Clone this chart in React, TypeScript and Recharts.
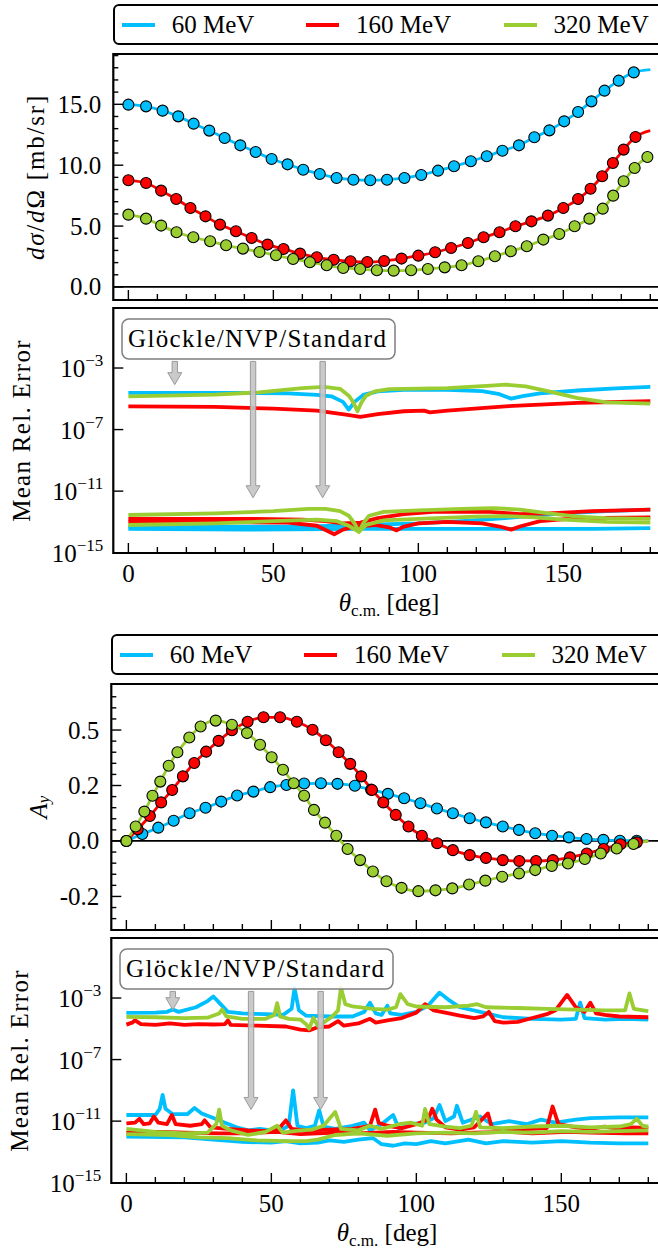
import React from "react";
import {
  ComposedChart,
  Line,
  Scatter,
  XAxis,
  YAxis,
  ReferenceLine,
  ReferenceArea,
} from "recharts";

type Pt = [number, number];

const FONT = '"Liberation Serif", "Times New Roman", serif';
const CYAN = "#00BFFF";
const RED = "#FF0000";
const GREEN = "#9ACD32";
const seriesColors = [CYAN, RED, GREEN];
const energyLabels = ["60 MeV", "160 MeV", "320 MeV"];

// shared theta axis
const thetaTicks = [0, 10, 20, 30, 40, 50, 60, 70, 80, 90, 100, 110, 120, 130, 140, 150, 160, 170, 180];
const thetaMajor = [0, 50, 100, 150];

// dσ/dΩ axis
const xsTicks = [0, 1, 2, 3, 4, 5, 6, 7, 8, 9, 10, 11, 12, 13, 14, 15, 16, 17, 18, 19];
const xsMajor = [0, 5, 10, 15];
const xsMajorLabels = ["0.0", "5.0", "10.0", "15.0"];

// A_y axis (labels as printed in the figure)
const ayTicks = [-0.28, -0.24, -0.2, -0.16, -0.12, -0.08, -0.04, 0, 0.04, 0.08, 0.12, 0.16, 0.2, 0.24, 0.28, 0.32, 0.36, 0.4, 0.44, 0.48, 0.52];
const ayMajor = [-0.2, 0, 0.2, 0.4];
const ayMajorLabels = ["-0.2", "0.0", "0.2", "0.5"];

// log10 error axis
const logTicks = [-15, -11, -7, -3];

// dσ/dΩ [mb/sr] markers
const xs60: Pt[] = [[0, 14.97], [6.1, 14.83], [11.8, 14.48], [17.2, 14.01], [22.5, 13.41], [27.9, 12.84], [33.2, 12.23], [38.6, 11.63], [43.9, 11.08], [49.4, 10.51], [54.9, 10.07], [60.3, 9.63], [66, 9.28], [71.8, 8.95], [77.6, 8.81], [83.4, 8.76], [89.2, 8.81], [95.2, 8.95], [101, 9.2], [106.8, 9.55], [112.3, 9.91], [118.1, 10.32], [123.6, 10.73], [129, 11.19], [134.7, 11.63], [140, 12.29], [145.2, 12.86], [150.3, 13.6], [155.1, 14.37], [159.7, 15.24], [164.2, 16.12], [169.1, 16.94], [174.3, 17.62]];
const xs160: Pt[] = [[0, 8.76], [6.1, 8.54], [11.3, 7.91], [16.5, 7.22], [21.4, 6.49], [26.6, 5.8], [31.6, 5.12], [37.1, 4.57], [42.5, 4.02], [48, 3.48], [53.5, 3.12], [59.2, 2.74], [65, 2.44], [70.8, 2.24], [76.6, 2.11], [82.4, 2.05], [88.2, 2.13], [94.2, 2.33], [100, 2.57], [105.8, 2.85], [111.3, 3.2], [117.1, 3.61], [122.5, 4.08], [128, 4.49], [133.5, 4.98], [139, 5.39], [144.7, 5.86], [150, 6.49], [155.1, 7.22], [159.4, 8.07], [163.4, 9.09], [167.1, 10.18], [170.8, 11.28], [174.9, 12.32]];
const xs320: Pt[] = [[0, 5.94], [6.1, 5.61], [11.3, 5.04], [16.6, 4.49], [22.4, 4.08], [28.2, 3.75], [33.7, 3.42], [39.5, 3.15], [45.2, 2.87], [50.9, 2.6], [56.8, 2.3], [62.6, 2.03], [68.4, 1.78], [74.1, 1.56], [79.9, 1.48], [85.7, 1.37], [91.5, 1.34], [97.5, 1.37], [103.3, 1.48], [109.1, 1.61], [114.9, 1.78], [120.7, 2.11], [126.4, 2.52], [131.9, 2.93], [137.4, 3.34], [143.1, 3.89], [148.6, 4.35], [153.9, 4.98], [159, 5.61], [163.6, 6.43], [167.2, 7.5], [170.8, 8.68], [174.6, 9.77], [179, 10.67]];
const xsAt180 = [17.84, 12.84, 10.78];

// A_y markers
const ay60: Pt[] = [[0, 0], [5.5, 0.025], [11, 0.048], [16.3, 0.073], [21.8, 0.1], [27.3, 0.12], [32.7, 0.142], [38.2, 0.164], [43.8, 0.178], [49.6, 0.194], [55.2, 0.202], [61.3, 0.207], [67.1, 0.208], [72.8, 0.206], [78.8, 0.199], [84.4, 0.185], [90.2, 0.17], [95.8, 0.154], [101.4, 0.136], [107.1, 0.117], [112.6, 0.1], [118.4, 0.082], [124, 0.067], [129.8, 0.052], [135.4, 0.04], [141, 0.028], [146.8, 0.019], [152.6, 0.013], [158.7, 0.007], [164.5, 0.004], [170.2, 0.001], [176, 0.001]];
const ay160: Pt[] = [[0, 0], [3.9, 0.042], [8.1, 0.09], [12, 0.139], [15.8, 0.184], [19.5, 0.233], [23.4, 0.281], [27.5, 0.322], [31.8, 0.361], [36.4, 0.399], [41.8, 0.43], [47.3, 0.446], [53, 0.446], [58.8, 0.43], [64.2, 0.401], [68.8, 0.363], [73.2, 0.32], [77.2, 0.278], [81, 0.233], [84.7, 0.184], [88.6, 0.139], [92.9, 0.094], [97.3, 0.052], [101.9, 0.019], [107.2, -0.008], [112.6, -0.033], [118.4, -0.051], [124, -0.061], [129.8, -0.069], [135.5, -0.072], [141.3, -0.072], [147.1, -0.069], [153, -0.059], [158.8, -0.045], [164.6, -0.029], [170.4, -0.012], [176, -0.005]];
const ay320: Pt[] = [[0, 0], [3.2, 0.052], [6.2, 0.106], [9, 0.163], [11.7, 0.214], [14.6, 0.271], [17.6, 0.32], [21.7, 0.373], [25.6, 0.413], [30.8, 0.434], [36.4, 0.419], [41.6, 0.389], [46.1, 0.347], [50.1, 0.302], [54, 0.257], [57.7, 0.208], [61.3, 0.163], [64.7, 0.112], [68.5, 0.066], [72.4, 0.019], [76.3, -0.029], [80.6, -0.069], [85, -0.11], [89.7, -0.145], [94.9, -0.169], [100.7, -0.181], [106.6, -0.178], [112.4, -0.171], [118.2, -0.157], [123.8, -0.143], [129.6, -0.129], [135.4, -0.117], [141, -0.105], [146.7, -0.09], [152.3, -0.081], [158.1, -0.065], [163.6, -0.045], [169.1, -0.027], [174.9, -0.011]];
const ayAt180 = [0, 0, 0];

// log10 mean rel. error for dσ/dΩ: Glöckle (upper) and NVP / Standard (lower)
const exsG60: Pt[] = [[0, -4.62], [20, -4.62], [40, -4.62], [55, -4.65], [65, -4.75], [70, -4.84], [74, -5.2], [76, -5.7], [78, -5.2], [81, -4.75], [86, -4.52], [95, -4.42], [110, -4.42], [122, -4.5], [128, -4.7], [132, -4.99], [136, -4.82], [142, -4.65], [155, -4.46], [168, -4.32], [180, -4.23]];
const exsG160: Pt[] = [[0, -5.49], [30, -5.53], [50, -5.64], [65, -5.77], [75, -6.03], [80, -6.18], [86, -5.99], [95, -5.81], [102, -5.77], [104, -5.88], [110, -5.77], [130, -5.49], [155, -5.27], [180, -5.16]];
const exsG320: Pt[] = [[0, -4.84], [30, -4.73], [45, -4.58], [60, -4.3], [67.5, -4.23], [73, -4.35], [76, -4.8], [77.5, -5.2], [79, -5.81], [80.5, -5.2], [82, -4.8], [85, -4.52], [90, -4.37], [110, -4.3], [125, -4.15], [130, -4.08], [137, -4.19], [145, -4.52], [155, -4.95], [165, -5.23], [180, -5.32]];
const exsN60a: Pt[] = [[0, -13.3], [60, -13.3], [80, -13.2], [100, -13.1], [115, -12.95], [130, -12.75], [150, -12.45], [165, -12.3], [180, -12.2]];
const exsN60b: Pt[] = [[0, -13.45], [40, -13.5], [80, -13.45], [120, -13.45], [160, -13.45], [180, -13.4]];
const exsN160a: Pt[] = [[0, -12.8], [40, -12.8], [60, -12.85], [68, -12.95], [74, -13.1], [80, -13.05], [86, -12.75], [95, -12.5], [105, -12.35], [125, -12.35], [135, -12.5], [145, -12.45], [160, -12.3], [180, -12.2]];
const exsN160b: Pt[] = [[0, -13.0], [30, -13.0], [55, -13.05], [65, -13.25], [71, -13.8], [74, -13.5], [78, -13.3], [85, -13.2], [90, -13.35], [92.5, -13.55], [95, -13.3], [100, -13.1], [110, -13.0], [122, -13.1], [128, -13.3], [132, -13.5], [135, -13.3], [142, -12.95], [155, -12.75], [180, -12.7]];
const exsN320a: Pt[] = [[0, -12.55], [30, -12.45], [50, -12.3], [62, -12.15], [68, -12.15], [73, -12.3], [76, -12.6], [78, -13.1], [79.5, -13.65], [81, -13.1], [83, -12.6], [88, -12.35], [100, -12.25], [115, -12.15], [126, -12.1], [135, -12.2], [145, -12.45], [155, -12.65], [165, -12.75], [180, -12.8]];
const exsN320b: Pt[] = [[0, -13.2], [30, -13.1], [50, -12.95], [65, -12.85], [72, -12.95], [76, -13.25], [79.5, -13.65], [82, -13.2], [88, -12.9], [100, -12.8], [120, -12.65], [130, -12.62], [140, -12.7], [150, -12.85], [165, -13.0], [180, -13.05]];

// log10 mean rel. error for A_y
const eayG60: Pt[] = [[0, -3.97], [10, -3.95], [14, -3.9], [16, -3.75], [18, -3.9], [24, -3.6], [28, -3.2], [30, -2.9], [32, -3.3], [35, -3.9], [40, -4.0], [48, -4.05], [54, -4.1], [57, -3.7], [58, -2.35], [59.5, -3.8], [62, -4.15], [70, -4.2], [78, -4.2], [82, -3.9], [84, -3.3], [86, -4.0], [88, -4.1], [90, -3.5], [91, -4.0], [95, -4.1], [100, -3.9], [104, -3.5], [108, -2.65], [111, -3.1], [115, -3.6], [122, -3.9], [130, -4.25], [140, -4.35], [150, -4.4], [155, -4.35], [156.5, -3.3], [158, -4.3], [165, -4.4], [172, -4.35], [180, -4.4]];
const eayG160: Pt[] = [[0, -4.73], [2, -4.6], [3, -4.45], [5, -4.7], [10, -4.75], [15, -4.65], [20, -4.75], [25, -4.7], [30, -4.72], [34, -4.7], [35, -4.45], [36, -4.75], [45, -4.8], [55, -4.85], [60, -5.05], [63, -5.1], [66, -4.9], [70, -4.85], [73, -4.5], [75, -4.8], [80, -4.65], [84, -4.35], [86, -4.6], [90, -4.45], [95, -4.3], [100, -3.95], [103, -3.4], [106, -3.8], [110, -3.95], [115, -4.15], [120, -4.3], [123, -4.2], [125, -3.9], [127, -4.5], [130, -4.6], [135, -4.55], [140, -4.3], [145, -4.05], [148, -3.8], [152, -2.8], [155, -3.6], [158, -3.9], [160, -3.3], [162, -4.0], [165, -4.1], [170, -4.2], [180, -4.25]];
const eayG320: Pt[] = [[0, -4.23], [10, -4.25], [20, -4.3], [28, -4.28], [32, -4.0], [33, -3.75], [34.5, -4.2], [40, -4.35], [48, -4.35], [51, -4.1], [52, -3.33], [53, -4.2], [56, -4.35], [60, -4.4], [62, -4.7], [63, -5.0], [64.5, -4.3], [66, -4.8], [68, -4.6], [71, -4.2], [73, -3.8], [74, -2.33], [75.5, -3.4], [78, -3.55], [85, -3.7], [90, -3.75], [93, -3.6], [94.5, -2.75], [97, -3.4], [100, -3.55], [110, -3.6], [118, -3.5], [121, -3.4], [124, -3.6], [135, -3.65], [145, -3.7], [155, -3.75], [165, -3.8], [172, -3.8], [173.5, -2.7], [175, -3.7], [180, -3.85]];
const eayN60a: Pt[] = [[0, -10.6], [10, -10.6], [11.5, -10.2], [12.5, -9.3], [13.5, -10.2], [16, -10.55], [21, -10.55], [23.5, -10.15], [26, -10.5], [30, -10.8], [34, -11.1], [38, -11.4], [42, -11.6], [46, -11.5], [50, -11.6], [54, -11.5], [56, -11.3], [57.5, -9.0], [59, -11.3], [62, -11.45], [65, -11.3], [66.5, -10.3], [68, -11.35], [72, -11.5], [78, -11.3], [82, -11.1], [84, -11.6], [88, -11.2], [92, -10.6], [94, -11.5], [98, -11.2], [103, -11.1], [106, -10.8], [108, -9.95], [110, -11.0], [113, -10.7], [114, -10.0], [116, -11.1], [122, -10.7], [126, -11.2], [132, -11.0], [138, -11.2], [143, -10.9], [148, -11.1], [155, -10.9], [160, -10.8], [170, -10.75], [180, -10.75]];
const eayN60b: Pt[] = [[0, -12.0], [20, -12.05], [30, -12.2], [40, -12.35], [50, -12.4], [55, -12.3], [60, -12.45], [66, -12.4], [70, -12.25], [75, -12.35], [80, -12.2], [85, -12.1], [88, -12.5], [92, -12.6], [96, -12.45], [100, -12.5], [105, -12.3], [110, -12.45], [118, -12.2], [124, -12.45], [130, -12.3], [140, -12.4], [150, -12.3], [160, -12.4], [170, -12.45], [180, -12.45]];
const eayN160a: Pt[] = [[0, -11.15], [3, -11.1], [4.5, -10.85], [6, -11.2], [8, -11.15], [9.5, -10.7], [11, -11.1], [14, -11.2], [15.7, -10.6], [17, -11.2], [22, -11.3], [26, -11.2], [27, -10.95], [29, -11.4], [35, -11.5], [42, -11.6], [50, -11.65], [53, -11.4], [55, -10.95], [57, -11.5], [62, -11.6], [70, -11.55], [78, -11.5], [84, -11.3], [85.8, -10.25], [87, -11.1], [90, -11.3], [95, -11.45], [100, -11.2], [104, -10.9], [105.5, -10.2], [107, -10.9], [110, -11.4], [115, -11.55], [120, -11.4], [124.7, -10.5], [126, -11.4], [130, -11.55], [140, -11.5], [145, -11.45], [147, -10.05], [149, -11.2], [155, -11.4], [160, -11.5], [165, -11.35], [170, -11.5], [175, -11.4], [180, -11.45]];
const eayN160b: Pt[] = [[0, -11.75], [12, -11.7], [20, -11.75], [32, -11.8], [40, -11.8], [52, -11.7], [60, -11.85], [72, -11.75], [80, -11.8], [92, -11.7], [100, -11.75], [112, -11.8], [120, -11.75], [132, -11.7], [140, -11.8], [152, -11.7], [160, -11.75], [172, -11.8], [180, -11.8]];
const eayN320a: Pt[] = [[0, -11.5], [10, -11.7], [20, -11.8], [28, -11.75], [31, -11.2], [32, -10.25], [33, -11.3], [36, -11.6], [42, -11.9], [48, -11.7], [52, -11.3], [54, -11.75], [60, -11.6], [64, -11.55], [68, -11.3], [72, -10.4], [74, -11.5], [80, -11.6], [84, -11.3], [88, -11.5], [94, -11.2], [98, -11.1], [102, -11.3], [103, -10.2], [104.5, -11.2], [110, -11.35], [115, -11.45], [119, -11.3], [120.6, -10.4], [122, -11.4], [130, -11.45], [140, -11.35], [150, -11.3], [160, -11.4], [170, -11.35], [174, -11.2], [176, -10.85], [178, -11.3], [180, -11.35]];
const eayN320b: Pt[] = [[0, -11.85], [15, -11.9], [25, -12.05], [35, -12.1], [45, -12.25], [55, -12.3], [62, -12.3], [66, -12.2], [72, -11.9], [80, -11.8], [90, -11.95], [100, -11.8], [110, -11.75], [120, -11.8], [130, -11.7], [140, -11.75], [150, -11.65], [160, -11.7], [170, -11.65], [180, -11.6]];

// annotation arrows: theta, start, tips (log10)
const arrowTheta = [16, 43, 67];
const arrowStart = -2.57;
const exsArrowTips = [-4.08, -11.43, -11.43];
const eayArrowTips = [-3.76, -10.24, -10.24];

// layout
const W = 700;
const YW = 113.3;
const MR = 35.2;
const X_DOMAIN: [number, number] = [-5.2, 185];
const XS_DOMAIN: [number, number] = [-1.07, 19.13];
const AY_DOMAIN: [number, number] = [-0.321, 0.566];
const LOG_DOMAIN: [number, number] = [-15.02, 0.9];
const legendItemX = [6.7, 191, 388.6];

const toPts = (a: Pt[]) => a.map(([x, y]) => ({ x, y }));

function XTick(props: any) {
  const { x, y, payload, withLabels } = props;
  const v = payload.value as number;
  const major = thetaMajor.includes(v);
  return (
    <g>
      <line x1={x} x2={x} y1={y} y2={y - (major ? 10 : 6)} stroke="#000" strokeWidth={1.4} />
      {withLabels && major && (
        <text x={x} y={y + 29} textAnchor="middle" fontFamily={FONT} fontSize={25} fill="#000">
          {v}
        </text>
      )}
    </g>
  );
}

function YLinTick(props: any) {
  const { x, y, payload, majors, labels } = props;
  const v = payload.value as number;
  const idx = majors.findIndex((m: number) => Math.abs(m - v) < 1e-6);
  return (
    <g>
      <line x1={x} x2={x + (idx >= 0 ? 10 : 5)} y1={y} y2={y} stroke="#000" strokeWidth={1.4} />
      {idx >= 0 && (
        <text x={x - 12} y={y + 8.5} textAnchor="end" fontFamily={FONT} fontSize={25} fill="#000">
          {labels[idx]}
        </text>
      )}
    </g>
  );
}

function YLogTick(props: any) {
  const { x, y, payload } = props;
  const v = payload.value as number;
  return (
    <g>
      <line x1={x} x2={x + 10} y1={y} y2={y} stroke="#000" strokeWidth={1.4} />
      <text x={x - 10} y={y + 9} textAnchor="end" fontFamily={FONT} fontSize={25} fill="#000">
        10
        <tspan dy={-11} fontSize={17}>{`\u2212${-v}`}</tspan>
      </text>
    </g>
  );
}

const yTitle = (cx: number, node: React.ReactNode, spacing: number) => (props: any) => {
  const vb = props.viewBox || { y: 0, height: 0 };
  const cy = vb.y + vb.height / 2;
  return (
    <text
      x={cx}
      y={cy}
      transform={`rotate(-90 ${cx} ${cy})`}
      textAnchor="middle"
      dominantBaseline="central"
      fontFamily={FONT}
      fontSize={25}
      letterSpacing={spacing}
      fill="#000"
    >
      {node}
    </text>
  );
};

const xTitle = (props: any) => {
  const vb = props.viewBox || { x: 0, y: 0, width: 0 };
  const cx = vb.x + vb.width / 2;
  return (
    <text x={cx} y={vb.y + 58} textAnchor="middle" fontFamily={FONT} fontSize={25} fill="#000">
      <tspan fontStyle="italic">θ</tspan>
      <tspan fontSize={17} dy={5}>c.m.</tspan>
      <tspan dy={-5}> [deg]</tspan>
    </text>
  );
};

function ArrowShape(props: any) {
  const { x1, y1, y2 } = props;
  const hw = 2.7;
  const HW = 7;
  const hl = 12;
  const pts = [
    [x1 - hw, y1], [x1 + hw, y1], [x1 + hw, y2 - hl], [x1 + HW, y2 - hl],
    [x1, y2], [x1 - HW, y2 - hl], [x1 - hw, y2 - hl],
  ].map((p) => p.join(",")).join(" ");
  return <polygon points={pts} fill="#c4c4c4" fillOpacity={0.9} stroke="#9a9a9a" strokeWidth={1} />;
}

const dotShape = (color: string) => (p: any) => (
  <circle cx={p.cx} cy={p.cy} r={5.5} fill={color} stroke="#000" strokeWidth={1.1} />
);

function frame(domain: [number, number]) {
  return (
    <ReferenceArea
      x1={X_DOMAIN[0]}
      x2={X_DOMAIN[1]}
      y1={domain[0]}
      y2={domain[1]}
      fill="none"
      stroke="#000"
      strokeWidth={2.2}
      ifOverflow="visible"
    />
  );
}

function ObsPanel({ series, ends, domain, ticks, majors, labels, title, titleX, titleSpacing }: {
  series: Pt[][]; ends: number[]; domain: [number, number]; ticks: number[];
  majors: number[]; labels: string[]; title: React.ReactNode; titleX: number; titleSpacing: number;
}) {
  const items: React.ReactNode[] = [];
  series.forEach((s, i) => {
    items.push(
      <Line
        key={`l${i}`}
        data={toPts([...s, [180, ends[i]]])}
        dataKey="y"
        type="monotone"
        stroke={seriesColors[i]}
        strokeWidth={2.8}
        dot={false}
        activeDot={false}
        isAnimationActive={false}
      />,
      <Scatter
        key={`s${i}`}
        data={toPts(s)}
        dataKey="y"
        shape={dotShape(seriesColors[i])}
        isAnimationActive={false}
      />
    );
  });
  return (
    <ComposedChart width={W} height={304} margin={{ top: 54, right: MR, bottom: 0, left: 0 }}>
      <XAxis
        type="number"
        dataKey="x"
        domain={X_DOMAIN}
        allowDataOverflow
        ticks={thetaTicks}
        interval={0}
        tickSize={0}
        tickMargin={0}
        axisLine={false}
        tickLine={false}
        height={4}
        tick={<XTick withLabels={false} />}
      />
      <YAxis
        type="number"
        dataKey="y"
        domain={domain}
        allowDataOverflow
        ticks={ticks}
        interval={0}
        tickSize={0}
        tickMargin={0}
        axisLine={false}
        tickLine={false}
        width={YW}
        tick={<YLinTick majors={majors} labels={labels} />}
        label={yTitle(titleX, title, titleSpacing)}
      />
      {frame(domain)}
      <ReferenceLine y={0} stroke="#000" strokeWidth={1.8} />
      {items}
    </ComposedChart>
  );
}

function ErrPanel({ lines, tips, titleX }: { lines: { data: Pt[]; color: string }[]; tips: number[]; titleX: number }) {
  return (
    <ComposedChart width={W} height={330} margin={{ top: 6, right: MR, bottom: 0, left: 0 }}>
      <XAxis
        type="number"
        dataKey="x"
        domain={X_DOMAIN}
        allowDataOverflow
        ticks={thetaTicks}
        interval={0}
        tickSize={0}
        tickMargin={0}
        axisLine={false}
        tickLine={false}
        height={79}
        tick={<XTick withLabels />}
        label={xTitle}
      />
      <YAxis
        type="number"
        dataKey="y"
        domain={LOG_DOMAIN}
        allowDataOverflow
        ticks={logTicks}
        interval={0}
        tickSize={0}
        tickMargin={0}
        axisLine={false}
        tickLine={false}
        width={YW}
        tick={<YLogTick />}
        label={yTitle(titleX, "Mean Rel. Error", 1.3)}
      />
      {frame(LOG_DOMAIN)}
      {lines.map((l, i) => (
        <Line
          key={`e${i}`}
          data={toPts(l.data)}
          dataKey="y"
          type="linear"
          stroke={l.color}
          strokeWidth={3.8}
          strokeLinejoin="round"
          dot={false}
          activeDot={false}
          isAnimationActive={false}
        />
      ))}
      {arrowTheta.map((t, i) => (
        <ReferenceLine
          key={`a${i}`}
          segment={[{ x: t, y: arrowStart }, { x: t, y: tips[i] }]}
          shape={ArrowShape}
          ifOverflow="visible"
        />
      ))}
    </ComposedChart>
  );
}

function LegendBox({ left, top }: { left: number; top: number }) {
  return (
    <div
      style={{
        position: "absolute", left, top, width: 552, height: 37,
        border: "2px solid #000", borderRadius: 6, background: "#fff",
      }}
    >
      {energyLabels.map((lab, i) => (
        <div
          key={lab}
          style={{
            position: "absolute", left: legendItemX[i], top: 0, height: 37,
            display: "flex", alignItems: "center", whiteSpace: "nowrap",
          }}
        >
          <span style={{ display: "inline-block", width: 33, height: 4, background: seriesColors[i] }} />
          <span style={{ marginLeft: 17, fontSize: 25, fontFamily: FONT, lineHeight: "37px" }}>{lab}</span>
        </div>
      ))}
    </div>
  );
}

function NoteBox({ left, top }: { left: number; top: number }) {
  return (
    <svg style={{ position: "absolute", left, top }} width={280} height={46}>
      <rect x={1} y={1} width={273} height={40} rx={7} fill="#fff" fillOpacity={0.85} stroke="#7f7f7f" strokeWidth={1.5} />
      <text x={7} y={28.5} fontFamily={FONT} fontSize={25} fill="#000" textLength={258} lengthAdjust="spacing">
        Glöckle/NVP/Standard
      </text>
    </svg>
  );
}

const xsTitle = (
  <>
    <tspan fontStyle="italic">dσ</tspan>
    <tspan>/</tspan>
    <tspan fontStyle="italic">d</tspan>
    <tspan>Ω [mb/sr]</tspan>
  </>
);

const ayTitle = (
  <>
    <tspan fontStyle="italic">A</tspan>
    <tspan fontStyle="italic" fontSize={17} dy={5}>y</tspan>
  </>
);

export default function App() {
  const exsLines = [
    { data: exsG60, color: CYAN },
    { data: exsN60a, color: CYAN },
    { data: exsN60b, color: CYAN },
    { data: exsG160, color: RED },
    { data: exsN160a, color: RED },
    { data: exsN160b, color: RED },
    { data: exsG320, color: GREEN },
    { data: exsN320a, color: GREEN },
    { data: exsN320b, color: GREEN },
  ];
  const eayLines = [
    { data: eayG60, color: CYAN },
    { data: eayN60a, color: CYAN },
    { data: eayN60b, color: CYAN },
    { data: eayG160, color: RED },
    { data: eayN160a, color: RED },
    { data: eayN160b, color: RED },
    { data: eayG320, color: GREEN },
    { data: eayN320a, color: GREEN },
    { data: eayN320b, color: GREEN },
  ];
  return (
    <div
      style={{
        position: "absolute", left: 0, top: 0, width: 658, height: 1249,
        overflow: "hidden", background: "#fff", fontFamily: FONT,
      }}
    >
      <div style={{ position: "absolute", left: 0, top: 0 }}>
        <ObsPanel
          series={[xs60, xs160, xs320]}
          ends={xsAt180}
          domain={XS_DOMAIN}
          ticks={xsTicks}
          majors={xsMajor}
          labels={xsMajorLabels}
          title={xsTitle}
          titleX={35}
          titleSpacing={1.8}
        />
      </div>
      <div style={{ position: "absolute", left: 0, top: 302 }}>
        <ErrPanel lines={exsLines} tips={exsArrowTips} titleX={21} />
      </div>
      <div style={{ position: "absolute", left: -2, top: 630 }}>
        <ObsPanel
          series={[ay60, ay160, ay320]}
          ends={ayAt180}
          domain={AY_DOMAIN}
          ticks={ayTicks}
          majors={ayMajor}
          labels={ayMajorLabels}
          title={ayTitle}
          titleX={40}
          titleSpacing={0}
        />
      </div>
      <div style={{ position: "absolute", left: -2, top: 932 }}>
        <ErrPanel lines={eayLines} tips={eayArrowTips} titleX={21} />
      </div>
      <LegendBox left={113} top={4} />
      <LegendBox left={111} top={634} />
      <NoteBox left={121} top={318} />
      <NoteBox left={118.6} top={948} />
    </div>
  );
}
